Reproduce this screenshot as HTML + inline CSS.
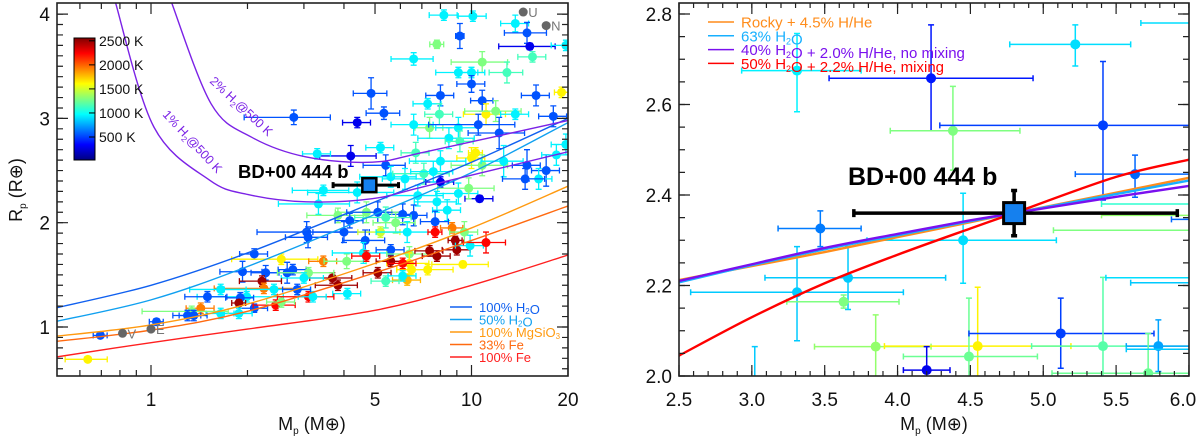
<!DOCTYPE html>
<html><head><meta charset="utf-8"><style>
html,body{margin:0;padding:0;background:#fff;}
svg{display:block;font-family:"Liberation Sans",sans-serif;}
</style></head><body>
<svg id="fig" width="1200" height="439" viewBox="0 0 1200 439" xmlns="http://www.w3.org/2000/svg">
<defs>
<clipPath id="clipL"><rect x="57" y="3" width="511" height="373"/></clipPath>
<clipPath id="clipR"><rect x="679" y="3" width="510" height="373"/></clipPath>
<linearGradient id="jet" x1="0" y1="1" x2="0" y2="0">
<stop offset="0" stop-color="#000080"/><stop offset="0.125" stop-color="#0000ff"/><stop offset="0.375" stop-color="#00ffff"/><stop offset="0.625" stop-color="#ffff00"/><stop offset="0.875" stop-color="#ff0000"/><stop offset="1" stop-color="#800000"/>
</linearGradient>
</defs>
<g id="left"></g>
<g id="right"></g>
</svg>
<script>
// ---------- Left panel data ----------
const leftMass = [8.2,10.1,9.2,13.7,14.9,15.2,19.7,7.8,6.6,10.8,15.5,9.1,10,12.9,10,8.0,10.8,15.9,19.1,4.86,5.33,4.4,2.79,7.3,7.94,11.1,11.9,13.7,18,7.4,6.6,9.1,10.5,12.2,8.5,9.2,5.2,4.2,3.3,6.7,10,10.3,10.8,8.0,12.6,14.9,17.1,16.2,14.7,18.4,19.7,5.4,6.2,5.6,7.1,8.0,7.6,9.1,10.6,9.8,6.8,7.8,8.4,6.6,6.1,3.45,3.33,4.4,3.83,4.17,4.7,5.1,5.4,5.8,7.7,4.0,3.06,3.09,5.2,6.3,4.66,7.7,8.7,9.5,2.1,2.55,1.93,2.28,2.66,2.77,3.45,4.08,4.6,5.6,6.4,7.4,7.8,8.9,9.0,9.9,11.1,9.4,7.3,6.4,6.3,6.5,5.6,6.1,5.1,4.7,5.4,6.1,3.83,3.68,4.1,3.1,3.0,2.22,2.25,2.42,1.99,1.9,1.88,1.5,1.65,2.1,1.88,1.65,2.45,2.55,3.1,3.2,2.86,1.43,1.34,1.3,1.36,1.04,0.695,0.635];
const leftRadius = [3.99,3.98,3.79,3.91,3.82,3.69,3.70,3.71,3.57,3.54,3.59,3.44,3.44,3.44,3.33,3.22,3.17,3.22,3.25,3.24,3.05,2.96,3.01,3.14,3.04,3.04,3.07,3.04,3.02,2.91,2.94,2.91,2.94,2.86,2.81,2.78,2.72,2.64,2.66,2.67,2.62,2.67,2.55,2.59,2.59,2.55,2.50,2.42,2.42,2.65,2.75,2.55,2.42,2.44,2.47,2.39,2.49,2.28,2.23,2.33,2.26,2.20,2.12,2.07,2.08,2.31,2.18,2.29,2.07,2.02,2.10,2.10,2.05,2.00,2.01,1.91,1.91,1.86,1.91,1.91,1.83,1.91,1.95,1.91,1.70,1.65,1.53,1.52,1.52,1.55,1.63,1.63,1.71,1.74,1.70,1.73,1.68,1.83,1.74,1.78,1.81,1.60,1.55,1.61,1.45,1.55,1.63,1.61,1.52,1.68,1.44,1.49,1.40,1.47,1.32,1.52,1.47,1.44,1.37,1.36,1.29,1.28,1.23,1.29,1.36,1.18,1.13,1.13,1.21,1.24,1.29,1.29,1.36,1.18,1.15,1.11,1.11,1.05,0.92,0.69];
const leftTemp = [950,950,550,950,550,300,950,1300,950,1300,1150,950,950,1150,550,550,550,550,1650,550,550,300,550,950,1150,1650,1300,950,550,1300,950,950,550,550,950,1150,950,300,950,1150,1650,1650,1300,950,950,550,550,950,550,950,950,550,950,950,1150,300,950,950,300,1300,950,950,950,550,550,950,950,950,1300,550,1300,550,1150,1300,550,550,550,550,1500,950,550,2250,1950,1300,550,1650,550,550,550,550,1950,1300,950,550,1300,2500,2500,2500,2500,950,2250,1650,1650,1650,1800,1650,2500,2250,2500,2250,1150,950,2500,2500,950,1300,950,2500,1950,950,950,550,2500,550,950,550,950,950,2250,1300,2250,950,550,1950,1300,550,550,550,550,1650];
const leftMassErr = [.1,.1,.03,.1,.15,.2,.1,.05,.15,.2,.1,.15,.1,.12,.1,.1,.08,.1,.05,.12,.12,.1,.3,.1,.1,.15,.2,.1,.1,.1,.15,.15,.3,.2,.2,.1,.1,.2,.1,.1,.1,.05,.2,.2,.15,.1,.1,.1,.15,.1,.1,.15,.15,.2,.2,.1,.15,.15,.1,.2,.2,.15,.1,.1,.1,.2,.25,.3,.2,.1,.2,.2,.2,.15,.1,.2,.3,.15,.15,.2,.15,.05,.08,.1,.1,.3,.15,.1,.15,.1,.1,.15,.2,.1,.15,.1,.1,.05,.1,.1,.15,.2,.2,.15,.1,.1,.1,.1,.1,.1,.1,.1,.15,.15,.1,.2,.15,.15,.3,.3,.3,.1,.05,.15,.2,.1,.1,.1,.15,.1,.2,.1,.1,.1,.3,.1,.1,.05,.05,.15];
const leftRadErr = [.05,.05,.12,.08,.1,.03,.05,.04,.06,.1,.05,.05,.05,.1,.08,.1,.1,.1,.05,.15,.06,.05,.07,.05,.1,.1,.1,.05,.1,.1,.1,.1,.1,.15,.1,.1,.05,.1,.05,.1,.1,.05,.1,.1,.15,.15,.15,.1,.1,.1,.1,.1,.1,.1,.1,.05,.1,.1,.03,.1,.1,.1,.1,.1,.1,.05,.1,.1,.07,.07,.1,.1,.1,.1,.1,.1,.1,.1,.05,.1,.1,.05,.05,.1,.05,.05,.1,.07,.1,.05,.05,.07,.1,.05,.07,.05,.05,.04,.05,.1,.1,.03,.05,.1,.05,.05,.05,.05,.05,.05,.05,.05,.05,.05,.05,.05,.05,.05,.05,.05,.05,.05,.03,.05,.05,.04,.05,.05,.05,.05,.05,.05,.05,.05,.05,.05,.05,.03,.02,.02];
const solarNames = ["U","N","V","E"];
const solarMass = [14.5,17.1,0.815,1.0];
const solarRadius = [4.02,3.89,0.94,0.98];
const xTicksL = [1,5,10,20];
const yTicksL = [1,2,3,4];
const cbarTicks = [500,1000,1500,2000,2500];
const curveMassL = [0.5,1,2,5,10,20];
const curveH2O100 = [1.18,1.40,1.71,2.20,2.58,3.00];
const curveH2O50 = [1.05,1.26,1.58,2.08,2.48,2.96];
const curveMgSiO3 = [0.91,1.02,1.22,1.61,1.95,2.35];
const curveFe33 = [0.86,0.97,1.15,1.52,1.83,2.16];
const curveFe100 = [0.71,0.85,0.98,1.16,1.40,1.69];
const h2Mass2 = [1.15,1.54,2.06,3.05,4.9,7.2,20];
const h2Rad2 = [4.14,3.14,2.82,2.63,2.58,2.68,2.98];
const h2Mass1 = [0.77,1.02,1.52,2.01,3.05,4.9,7.2,20];
const h2Rad1 = [4.14,2.92,2.41,2.27,2.20,2.23,2.35,2.68];
const bdMass = 4.8, bdRadius = 2.36, bdMassLo = 3.7, bdMassHi = 5.92, bdRadLo = 2.31, bdRadHi = 2.41;

// ---------- Right panel data ----------
const rightMass = [3.31,4.23,4.38,5.22,5.41,5.63,4.45,3.47,3.66,3.31,3.63,3.85,4.55,4.49,4.20,5.12,5.41,5.79,5.72,3.02,6.3,6.4,6.3,6.5,6.6,6.5,6.4,6.3];
const rightRadius = [2.675,2.658,2.542,2.733,2.554,2.446,2.30,2.326,2.217,2.185,2.164,2.065,2.066,2.043,2.013,2.094,2.066,2.066,2.006,1.95,2.78,2.38,2.355,2.322,2.217,2.206,2.059,2.346];
const rightTemp = [950,400,1300,900,500,600,900,650,850,850,1300,1350,1650,1250,300,500,1200,750,1250,850,900,1100,1350,1300,900,850,850,600];
const rightMassLo = [2.93,3.53,3.95,4.77,4.29,5.22,3.79,3.18,3.09,2.58,3.24,3.43,3.91,4.04,4.04,4.49,4.92,5.57,5.06,3.02,5.67,5.4,5.4,5.07,5.43,5.6,5.57,5.88];
const rightMassHi = [3.75,4.93,4.84,5.60,6.5,6.2,5.09,3.75,4.33,4.04,4.01,4.23,5.19,4.96,4.36,5.76,6.2,6.2,6.3,3.02,7,7.5,7,8,8,7.5,7,7];
const rightRadLo = [2.584,2.542,2.455,2.685,2.389,2.395,2.205,2.286,2.147,2.078,2.15,1.99,1.99,1.99,1.99,2.017,1.99,2.01,1.99,1.85,2.78,2.38,2.355,2.322,2.217,2.206,2.059,2.346];
const rightRadHi = [2.757,2.776,2.64,2.776,2.695,2.488,2.404,2.365,2.286,2.286,2.179,2.135,2.196,2.172,2.065,2.172,2.218,2.124,2.094,2.065,2.78,2.38,2.355,2.322,2.217,2.206,2.059,2.346];
const xTicksR = [2.5,3.0,3.5,4.0,4.5,5.0,5.5,6.0];
const yTicksR = [2.0,2.2,2.4,2.6,2.8];
const curveMassR = [2.5,3.0,3.5,4.0,4.5,4.8,5.5,6.0];
const curveRocky = [2.212,2.243,2.274,2.307,2.340,2.360,2.405,2.438];
const curveH2O63 = [2.207,2.245,2.280,2.311,2.342,2.360,2.402,2.432];
const curveMixNo = [2.210,2.247,2.283,2.314,2.344,2.360,2.396,2.420];
const curveMix = [2.045,2.130,2.205,2.268,2.326,2.360,2.440,2.478];
const legendRLabels = ["Rocky + 4.5% H/He","63% H\u2082O","40% H\u2082O + 2.0% H/He, no mixing","50% H\u2082O + 2.2% H/He, mixing"];
const legendLLabels = ["100% H\u2082O","50% H\u2082O","100% MgSiO\u2083","33% Fe","100% Fe"];

// ---------- scales ----------
const NS = "http://www.w3.org/2000/svg";
const lx = m => 151 + 320.5 * Math.log10(m);
const ly = r => 327 - 104.3 * (r - 1);
const rx = m => 679 + 145.7 * (m - 2.5);
const ry = r => 376 - 452.5 * (r - 2.0);
function jet(T){
  const f = Math.max(0, Math.min(1, (T - 22) / 2560));
  const c = v => Math.round(255 * Math.max(0, Math.min(1, v)));
  return `rgb(${c(1.5-Math.abs(4*f-3))},${c(1.5-Math.abs(4*f-2))},${c(1.5-Math.abs(4*f-1))})`;
}
function smoothPath(pts){
  let d = `M${pts[0][0]},${pts[0][1]}`;
  for (let i = 0; i < pts.length - 1; i++){
    const p0 = pts[Math.max(0,i-1)], p1 = pts[i], p2 = pts[i+1], p3 = pts[Math.min(pts.length-1,i+2)];
    const c1x = p1[0] + (p2[0]-p0[0])/6, c1y = p1[1] + (p2[1]-p0[1])/6;
    const c2x = p2[0] - (p3[0]-p1[0])/6, c2y = p2[1] - (p3[1]-p1[1])/6;
    d += `C${c1x},${c1y} ${c2x},${c2y} ${p2[0]},${p2[1]}`;
  }
  return d;
}
function mk(tag, parent, attrs){
  const e = document.createElementNS(NS, tag);
  for (const k in attrs) e.setAttribute(k, attrs[k]);
  parent.appendChild(e);
  return e;
}
const L = document.getElementById('left');
const R = document.getElementById('right');

// ---------- left panel ----------
const lPts = mk('g', L, {'clip-path':'url(#clipL)'});


for (let i = 0; i < leftMass.length; i++){
  const col = jet(leftTemp[i]);
  const g = mk('g', lPts, {stroke: col, 'stroke-width': 1.3, fill: col});
  
  
  const x = lx(leftMass[i]), y = ly(leftRadius[i]);
  const x1 = lx(leftMass[i]*(1-leftMassErr[i])), x2 = lx(leftMass[i]*(1+leftMassErr[i]));
  const y1 = ly(leftRadius[i]-leftRadErr[i]), y2 = ly(leftRadius[i]+leftRadErr[i]);
  mk('path', g, {d:`M${x1},${y}H${x2}M${x1},${y-3}V${y+3}M${x2},${y-3}V${y+3}M${x},${y1}V${y2}M${x-3},${y1}H${x+3}M${x-3},${y2}H${x+3}`, fill:'none'});
  mk('circle', g, {cx:x, cy:y, r:4.5, stroke:'none'});
}
const lCurves = [[curveH2O100,'#1060f0','100pct-h2o-curve'],[curveH2O50,'#10a0f0','50pct-h2o-curve'],[curveMgSiO3,'#ff9a10','mgsio3-curve'],[curveFe33,'#ff6a10','33pct-fe-curve'],[curveFe100,'#ff2020','100pct-fe-curve']];
const lCurveG = mk('g', L, {'clip-path':'url(#clipL)', fill:'none', 'stroke-width':1.4});
for (const [arr,col,name] of lCurves){
  const p = mk('path', lCurveG, {d: smoothPath(curveMassL.map((m,i)=>[lx(m), ly(arr[i])])), stroke: col});
  
  
}
const h2a = mk('path', lCurveG, {d: smoothPath(h2Mass2.map((m,i)=>[lx(m), ly(h2Rad2[i])])), stroke:'#7b22e6'});


const h2b = mk('path', lCurveG, {d: smoothPath(h2Mass1.map((m,i)=>[lx(m), ly(h2Rad1[i])])), stroke:'#7b22e6'});


for (let i = 0; i < solarNames.length; i++){
  const c = mk('circle', L, {cx: lx(solarMass[i]), cy: ly(solarRadius[i]), r: 4.5, fill:'#666'});
  
  
  const t = mk('text', L, {x: lx(solarMass[i]) + 5, y: ly(solarRadius[i]) + 5, 'font-size': 13, fill:'#777'});
  t.textContent = solarNames[i];
  
  
}
{
  const g = mk('g', L, {});
  
  
  const x = lx(bdMass), y = ly(bdRadius);
  mk('path', g, {d:`M${lx(bdMassLo)},${y}H${lx(bdMassHi)}M${lx(bdMassLo)},${y-3}V${y+3}M${lx(bdMassHi)},${y-3}V${y+3}M${x},${ly(bdRadLo)}V${ly(bdRadHi)}`, stroke:'#000', 'stroke-width':3, fill:'none'});
  mk('rect', g, {x:x-7, y:y-7, width:14, height:14, fill:'#1580ee', stroke:'#000', 'stroke-width':2.5});
  const t = mk('text', L, {x:238, y:178, 'font-size':18.5, 'font-weight':'bold', fill:'#000'});
  t.textContent = 'BD+00 444 b';
  
  
}
{
  const t1 = mk('text', L, {x:0, y:0, 'font-size':12.5, fill:'#7b22e6', transform:'translate(209,82) rotate(43)'});
  t1.innerHTML = '2% H<tspan font-size="8" dy="3">2</tspan><tspan dy="-3">@500 K</tspan>';
  
  
  const t2 = mk('text', L, {x:0, y:0, 'font-size':12.5, fill:'#7b22e6', transform:'translate(162,115) rotate(47)'});
  t2.innerHTML = '1% H<tspan font-size="8" dy="3">2</tspan><tspan dy="-3">@500 K</tspan>';
  
  
}
{
  const g = mk('g', L, {});
  
  
  mk('rect', g, {x:74, y:38, width:21, height:122, fill:'url(#jet)', stroke:'#000', 'stroke-width':1});
  for (const T of cbarTicks){
    const y = 160 - (T - 22) * 0.0481;
    mk('line', g, {x1:89, x2:95, y1:y, y2:y, stroke:'#000'});
    const t = mk('text', g, {x:99, y:y+5, 'font-size':14, fill:'#111', 'xml:space':'preserve'});
    t.textContent = T + '  K';
    
    
  }
}
legendLLabels.forEach((lab, i) => {
  const y = 307 + i * 12.5, col = lCurves[i][1];
  const g = mk('g', L, {});
  
  
  mk('line', g, {x1:450, x2:472, y1:y, y2:y, stroke: col, 'stroke-width':1.5});
  const t = mk('text', g, {x:479, y:y+5, 'font-size':13, fill: col});
  t.innerHTML = lab.replace('\u2082','<tspan font-size="8" dy="2">2</tspan><tspan dy="-2"></tspan>').replace('\u2083','<tspan font-size="8" dy="2">3</tspan>');
});
function frame(parent, x0, x1, y0, y1){
  const f = mk('rect', parent, {x:x0, y:y0, width:x1-x0, height:y1-y0, fill:'none', stroke:'#222', 'stroke-width':1.6});
  
  
}
frame(L, 57, 568, 3, 376);
{
  const g = mk('g', L, {stroke:'#222', 'stroke-width':1.2});
  
  
  const minorX = [0.6,0.7,0.8,0.9,2,3,4,6,7,8,9];
  for (const m of minorX){ const x = lx(m); mk('path', g, {d:`M${x},376v-6M${x},3v6`}); }
  for (const m of xTicksL){ const x = lx(m); mk('path', g, {d:`M${x},376v-11M${x},3v11`}); }
  for (let r = 0.6; r < 4.1; r += 0.1){ const y = ly(r); mk('path', g, {d:`M57,${y}h6M568,${y}h-6`}); }
  for (const r of yTicksL){ const y = ly(r); mk('path', g, {d:`M57,${y}h11M568,${y}h-11`}); }
}
xTicksL.forEach(m => {
  const t = mk('text', L, {x: lx(m), y: 406, 'font-size':19, 'text-anchor':'middle', fill:'#111'});
  t.textContent = m;
  
  
});
yTicksL.forEach(r => {
  const t = mk('text', L, {x: 50, y: ly(r) + 7, 'font-size':19, 'text-anchor':'end', fill:'#111'});
  t.textContent = r;
  
  
});
{
  const t = mk('text', L, {x:312, y:430, 'font-size':18, 'text-anchor':'middle', fill:'#111'});
  t.innerHTML = 'M<tspan font-size="10" dy="4">p</tspan><tspan dy="-4"> (M\u2295)</tspan>';
  
  
  const y = mk('text', L, {x:0, y:0, 'font-size':18, 'text-anchor':'middle', fill:'#111', transform:'translate(22,190) rotate(-90)'});
  y.innerHTML = 'R<tspan font-size="10" dy="4">p</tspan><tspan dy="-4"> (R\u2295)</tspan>';
  
  
}

// ---------- right panel ----------
const rPts = mk('g', R, {'clip-path':'url(#clipR)'});


for (let i = 0; i < rightMass.length; i++){
  const col = jet(rightTemp[i]);
  const g = mk('g', rPts, {stroke: col, 'stroke-width': 1.5, fill: col});
  
  
  const x = rx(rightMass[i]), y = ry(rightRadius[i]);
  const x1 = rx(rightMassLo[i]), x2 = rx(rightMassHi[i]), y1 = ry(rightRadLo[i]), y2 = ry(rightRadHi[i]);
  let d = `M${x1},${y}H${x2}M${x1},${y-3}V${y+3}M${x2},${y-3}V${y+3}`;
  if (y1 !== y2) d += `M${x},${y1}V${y2}M${x-3},${y1}H${x+3}M${x-3},${y2}H${x+3}`;
  mk('path', g, {d, fill:'none'});
  mk('circle', g, {cx:x, cy:y, r:5, stroke:'none'});
}
const rCurves = [[curveRocky,'#ff8c1a','rocky-hhe-curve'],[curveH2O63,'#18b0ff','63pct-h2o-curve'],[curveMixNo,'#7a10ee','no-mixing-curve'],[curveMix,'#ff0000','mixing-curve']];
const rCurveG = mk('g', R, {'clip-path':'url(#clipR)', fill:'none', 'stroke-width':2.4});
for (const [arr,col,name] of rCurves){
  const p = mk('path', rCurveG, {d: smoothPath(curveMassR.map((m,i)=>[rx(m), ry(arr[i])])), stroke: col});
  
  
}
{
  const g = mk('g', R, {});
  
  
  const x = rx(bdMass), y = ry(bdRadius);
  mk('path', g, {d:`M${rx(bdMassLo)},${y}H${rx(bdMassHi)}M${rx(bdMassLo)},${y-4}V${y+4}M${rx(bdMassHi)},${y-4}V${y+4}M${x},${ry(bdRadLo)}V${ry(bdRadHi)}M${x-3},${ry(bdRadLo)}H${x+3}M${x-3},${ry(bdRadHi)}H${x+3}`, stroke:'#000', 'stroke-width':3.5, fill:'none'});
  mk('rect', g, {x:x-10.5, y:y-10.5, width:21, height:21, fill:'#1580ee', stroke:'#000', 'stroke-width':3});
  const t = mk('text', R, {x:848, y:185, 'font-size':25, 'font-weight':'bold', fill:'#000'});
  t.textContent = 'BD+00 444 b';
  
  
}
legendRLabels.forEach((lab, i) => {
  const y = 22 + i * 13.8, col = rCurves[i][1];
  const g = mk('g', R, {});
  
  
  mk('line', g, {x1:708, x2:734, y1:y, y2:y, stroke: col, 'stroke-width':1.5});
  const t = mk('text', g, {x:741, y:y+5.5, 'font-size':15, fill: col, 'xml:space':'preserve'});
  t.innerHTML = lab.replace('\u2082','<tspan font-size="9" dy="3">2</tspan><tspan dy="-3"></tspan>');
});
frame(R, 679, 1189, 3, 376);
{
  const g = mk('g', R, {stroke:'#222', 'stroke-width':1.2});
  
  
  for (let m = 2.5; m < 6.01; m += 0.1){ const x = rx(m); mk('path', g, {d:`M${x},376v-5M${x},3v5`}); }
  for (const m of xTicksR){ const x = rx(m); mk('path', g, {d:`M${x},376v-11M${x},3v11`}); }
  for (let r = 2.0; r < 2.83; r += 0.05){ const y = ry(r); mk('path', g, {d:`M679,${y}h6M1189,${y}h-6`}); }
  for (const r of yTicksR){ const y = ry(r); mk('path', g, {d:`M679,${y}h11M1189,${y}h-11`}); }
}
xTicksR.forEach(m => {
  const t = mk('text', R, {x: Math.min(rx(m), 1183), y: 406, 'font-size':19, 'text-anchor':'middle', fill:'#111'});
  t.textContent = m.toFixed(1);
  
  
});
yTicksR.forEach(r => {
  const t = mk('text', R, {x: 672, y: ry(r) + 7, 'font-size':19, 'text-anchor':'end', fill:'#111'});
  t.textContent = r.toFixed(1);
  
  
});
{
  const t = mk('text', R, {x:934, y:430, 'font-size':18, 'text-anchor':'middle', fill:'#111'});
  t.innerHTML = 'M<tspan font-size="10" dy="4">p</tspan><tspan dy="-4"> (M\u2295)</tspan>';
  
  
}
</script>
</body></html>
